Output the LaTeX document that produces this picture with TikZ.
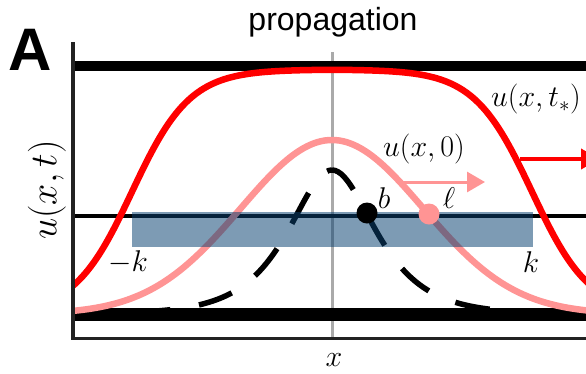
\RequirePackage{fix-cm}
\documentclass[tikz,border=0pt]{standalone}
\usepackage{fontspec}
\setsansfont{Liberation Sans}
\usepackage{xcolor}
\definecolor{pgred}{RGB}{255,0,0}
\definecolor{pgpink}{RGB}{255,148,148}
\definecolor{pgblue}{RGB}{10,66,113}
\definecolor{pggray}{RGB}{170,170,170}
\definecolor{pgaxis}{RGB}{34,34,34}
\usepackage{tikz}
\usetikzlibrary{arrows.meta}

\begin{document}
\begin{tikzpicture}[x=1pt,y=-1pt,
  mathlabel/.style={inner sep=0pt, font=\fontsize{30}{36}\selectfont},
  stateline/.style={line width=10pt, black},
  curvered/.style={line width=6.5pt, pgred},
  curvepink/.style={line width=6.5pt, pgpink},
  dashcurve/.style={line width=5.5pt, black, dash pattern=on 35pt off 29pt},
  markdot/.style={circle, inner sep=0pt, minimum size=21pt},
  headarrow/.style={-{Triangle[length=18pt,width=20pt]}}]
  \useasboundingbox (0,0) rectangle (586,373);
  \clip (0,0) rectangle (586,373);

  % Guide lines
  \draw[line width=3pt, pggray] (332,52) -- (332,338);
  \draw[line width=3.5pt, black] (73,216) -- (600,216);

  % Kernel (dashed)
  \draw[dashcurve, dash phase=5pt] plot[domain=0:270, samples=90, smooth] ({332+\x}, {314-144/cosh(\x/38.5)});
  \draw[dashcurve, dash phase=30pt] plot[domain=0:270, samples=90, smooth] ({332-\x}, {314-144/cosh(\x/38.5)});

  % States
  \draw[stateline] (73,66) -- (600,66);
  \draw[stateline, line width=12.5pt] (73,314.5) -- (600,314.5);

  % Initial bump u(x,0)
  \draw[curvepink] plot[domain=73:600, samples=120, smooth] (\x, {314-174*exp(-0.5*((\x-332)/91.4)^2)});

  % Front u(x,t*)
  \draw[curvered] plot[domain=73:600, samples=150, smooth] (\x, {314-244.5/(1+exp((abs(\x-332)-200)/29))});

  % Band
  \fill[pgblue, opacity=0.53] (132,212) rectangle (533,247);

  % Arrows
  \coordinate (redfoot) at (520,159);
  \coordinate (redtip) at (599,159);
  \draw[line width=4pt, pgred, headarrow] (redfoot) -- (redtip);
  \coordinate (pinkfoot) at (400,182);
  \coordinate (pinktip) at (485,182);
  \draw[line width=3pt, pgpink, headarrow] (pinkfoot) -- (pinktip);

  % Points
  \node[markdot, fill=black] (bdot) at (367,213) {};
  \node[markdot, fill=pgpink] (ldot) at (429,214) {};

  % Axes
  \draw[line width=4pt, pgaxis] (73,42) -- (73,339.5);
  \draw[line width=3pt, pgaxis] (71,338) -- (600,338);

  % Labels
  \node[font=\fontsize{32}{38}\selectfont\sffamily, anchor=base] (title) at (333,30) {propagation};
  \node[font=\fontsize{60}{70}\selectfont\sffamily\bfseries, anchor=base] (panel) at (30,70) {A};
  \node[mathlabel, font=\fontsize{38}{44}\selectfont, rotate=90] (ylabel) at (47,190) {$u(x,t)$};
  \node[mathlabel] (xlabel) at (334,360) {$x$};
  \node[mathlabel] (initlabel) at (424,149) {$u(x,0)$};
  \node[mathlabel, anchor=west] (frontlabel) at (491,99) {$u(x,t_*)$};
  \node[mathlabel] (blabel) at (384,198) {$b$};
  \node[mathlabel] (llabel) at (449,198) {$\ell$};
  \node[mathlabel] (mklabel) at (128,262) {$-k$};
  \node[mathlabel] (klabel) at (531,262) {$k$};
\end{tikzpicture}
\end{document}
